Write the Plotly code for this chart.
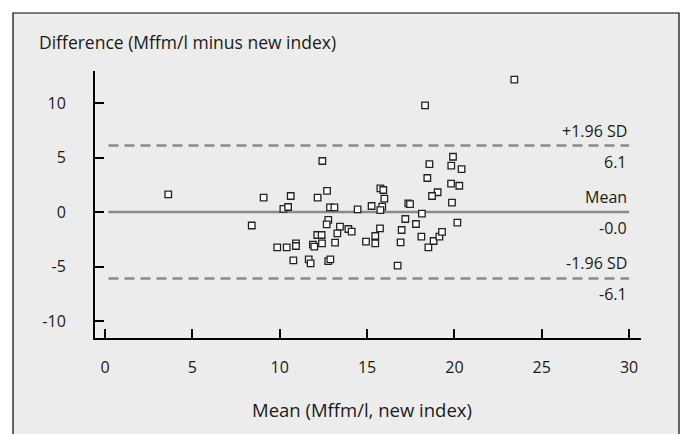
import plotly.graph_objects as go

# Bland-Altman data
mean_vals = [3.62, 23.43, 18.32, 12.44, 9.08, 10.63, 12.17, 12.71, 10.21, 10.48,
             12.88, 13.13, 12.78, 12.69, 8.40, 13.45, 13.93, 14.12, 13.30, 12.15,
             12.40, 9.86, 10.40, 10.93, 10.93, 11.90, 11.98, 12.42, 13.17, 10.78,
             11.66, 11.77, 12.78, 12.90, 19.92, 18.57, 19.82, 20.41, 18.45, 19.81,
             20.28, 19.04, 18.72, 19.86, 15.76, 15.93, 15.99, 15.87, 15.76, 15.26,
             14.46, 17.36, 17.46, 17.19, 18.14, 17.80, 20.17, 15.74, 15.47, 15.47,
             14.94, 16.98, 16.92, 18.11, 16.75, 18.51, 18.81, 19.14, 19.29]
diff_vals = [1.62, 12.14, 9.79, 4.68, 1.31, 1.47, 1.31, 1.93, 0.28, 0.46,
             0.43, 0.43, -0.73, -1.13, -1.24, -1.35, -1.56, -1.80, -1.96, -2.11,
             -2.11, -3.24, -3.24, -2.87, -3.12, -3.00, -3.18, -2.87, -2.81, -4.43,
             -4.34, -4.71, -4.50, -4.34, 5.07, 4.40, 4.25, 3.94, 3.12, 2.60,
             2.41, 1.81, 1.47, 0.86, 2.17, 2.02, 1.22, 0.49, 0.18, 0.55,
             0.24, 0.80, 0.73, -0.64, -0.15, -1.10, -0.98, -1.50, -2.20, -2.87,
             -2.72, -1.65, -2.78, -2.26, -4.92, -3.24, -2.66, -2.26, -1.83]

line_x = [0.2, 30]
mean_diff = -0.0
upper_loa = 6.1
lower_loa = -6.1

x_ticks = [0, 5, 10, 15, 20, 25, 30]
y_ticks = [-10, -5, 0, 5, 10]
y_ticktext = ["-10", "-5", "0", "5", "10"]

W, H = 683, 434
L, R, T, B = 95, 641, 71, 338

FONT = "Open Sans"
GREY = "#8a8a8a"
INK = "#1a1a1a"


def px_x(p):
    return (p - L) / (R - L)


def px_y(p):
    return (B - p) / (B - T)


fig = go.Figure()

for yv, dash in [(upper_loa, "10px,6px"), (mean_diff, "solid"), (lower_loa, "10px,6px")]:
    fig.add_trace(go.Scatter(
        x=line_x, y=[yv, yv], mode="lines",
        line=dict(color=GREY, width=2.5, dash=dash),
        hoverinfo="skip", showlegend=False
    ))

fig.add_trace(go.Scatter(
    x=mean_vals, y=diff_vals, mode="markers",
    marker=dict(symbol="square", size=6.5, color="white",
                line=dict(color="#222222", width=1.3)),
    showlegend=False
))

# labels on the right for the limits of agreement
labels = [(upper_loa, "+1.96 SD", f"{upper_loa:.1f}"),
          (mean_diff, "Mean", "-0.0"),
          (lower_loa, "-1.96 SD", f"{lower_loa:.1f}")]
for yv, top_txt, bot_txt in labels:
    fig.add_annotation(x=30, y=yv, xref="x", yref="y", text=top_txt,
                       showarrow=False, xanchor="right", yanchor="bottom",
                       yshift=2, font=dict(family=FONT, size=16, color=INK))
    fig.add_annotation(x=30, y=yv, xref="x", yref="y", text=bot_txt,
                       showarrow=False, xanchor="right", yanchor="top",
                       yshift=-3, font=dict(family=FONT, size=16, color=INK))

# panel background with border
fig.add_shape(type="rect", xref="paper", yref="paper",
              x0=px_x(13), x1=px_x(679), y0=px_y(445), y1=px_y(13),
              fillcolor="#ececec", line=dict(color="black", width=1.2),
              layer="below")

fig.add_annotation(x=px_x(37), y=px_y(42), xref="paper", yref="paper",
                   text="Difference (Mffm/l minus new index)", showarrow=False,
                   xanchor="left", yanchor="middle",
                   font=dict(family=FONT, size=17.5, color=INK))
fig.add_annotation(x=px_x(362), y=px_y(409), xref="paper", yref="paper",
                   text="Mean (Mffm/l, new index)", showarrow=False,
                   xanchor="center", yanchor="middle",
                   font=dict(family=FONT, size=18.5, color=INK))

fig.update_xaxes(range=[(L - 105) / 17.47, (R - 105) / 17.47],
                 tickvals=x_ticks, ticks="inside", ticklen=9, tickwidth=2,
                 tickcolor="black", showline=True, linecolor="black", linewidth=2,
                 showgrid=False, zeroline=False, ticklabelstandoff=14,
                 tickfont=dict(family=FONT, size=16, color=INK))
fig.update_yaxes(range=[(212 - B) / 10.9, (212 - T) / 10.9],
                 tickvals=y_ticks, ticktext=y_ticktext, ticks="inside",
                 ticklen=9, tickwidth=2,
                 tickcolor="black", showline=True, linecolor="black", linewidth=2,
                 showgrid=False, zeroline=False, ticklabelstandoff=24,
                 tickfont=dict(family=FONT, size=16, color=INK))

fig.update_layout(
    width=W, height=H,
    margin=dict(l=L, r=W - R, t=T, b=H - B),
    paper_bgcolor="white",
    plot_bgcolor="white",
)

fig.write_html("out.html", config={"displayModeBar": False},
               post_script="document.body.style.margin='0';")
